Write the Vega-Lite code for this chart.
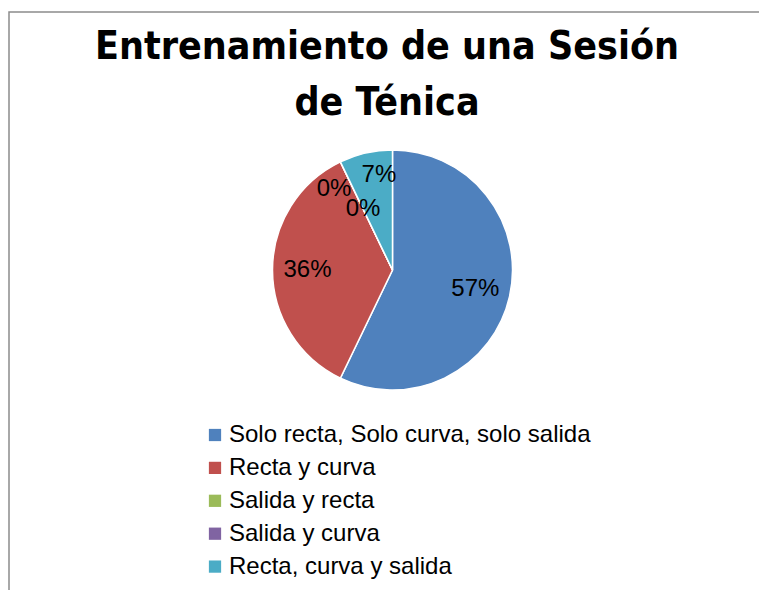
{
  "$schema": "https://vega.github.io/schema/vega-lite/v6.json",
  "width": 750,
  "height": 578,
  "autosize": {"type": "none"},
  "padding": {"left": 9, "top": 12, "right": 0, "bottom": 0},
  "background": "white",
  "view": {"stroke": "#8c8c8c", "strokeWidth": 1.5, "strokeDash": [750, 1328, 578], "fill": "white"},
  "title": {
    "text": ["Entrenamiento de una Sesión", "de Ténica"],
    "font": "DejaVu Sans Condensed",
    "fontWeight": "bold",
    "fontSize": 39,
    "lineHeight": 56,
    "color": "black",
    "anchor": "middle",
    "frame": "group",
    "baseline": "top",
    "offset": 0,
    "dy": 111,
    "dx": 3
  },
  "data": {
    "values": [
      {"idx": 1, "cat": "Solo recta, Solo curva, solo salida", "value": 8, "label": "57%"},
      {"idx": 2, "cat": "Recta y curva", "value": 5, "label": "36%"},
      {"idx": 3, "cat": "Salida y recta", "value": 0, "label": "0%"},
      {"idx": 4, "cat": "Salida y curva", "value": 0, "label": "0%"},
      {"idx": 5, "cat": "Recta, curva y salida", "value": 1, "label": "7%"}
    ]
  },
  "encoding": {
    "theta": {"field": "value", "type": "quantitative", "stack": true},
    "order": {"field": "idx", "type": "quantitative"}
  },
  "layer": [
    {
      "mark": {"type": "arc", "outerRadius": 120, "stroke": "white", "strokeWidth": 1.5, "x": 383.5, "y": 258},
      "encoding": {
        "color": {
          "field": "cat",
          "type": "nominal",
          "sort": null,
          "scale": {
            "domain": ["Solo recta, Solo curva, solo salida", "Recta y curva", "Salida y recta", "Salida y curva", "Recta, curva y salida"],
            "range": ["#4F81BD", "#C0504D", "#9BBB59", "#8064A2", "#4BACC6"]
          },
          "legend": {
            "title": null,
            "orient": "none",
            "legendX": 194,
            "legendY": 411,
            "symbolType": "square",
            "symbolSize": 150,
            "symbolStrokeWidth": 0,
            "symbolOffset": 0,
            "padding": 0,
            "labelFont": "Liberation Sans",
            "labelFontSize": 24,
            "labelColor": "black",
            "labelOffset": 2,
            "labelLimit": 600,
            "rowPadding": 8.9
          }
        }
      }
    },
    {
      "mark": {"type": "text", "radius": 85, "font": "Liberation Sans", "fontSize": 24, "color": "black", "x": 383.5, "y": 258},
      "encoding": {
        "text": {"condition": {"test": "datum.idx <= 2", "field": "label"}, "value": ""}
      }
    },
    {
      "mark": {"type": "text", "radius": 97, "dx": 8, "font": "Liberation Sans", "fontSize": 24, "color": "black", "x": 383.5, "y": 258},
      "encoding": {
        "text": {"condition": {"test": "datum.idx == 5", "field": "label"}, "value": ""}
      }
    },
    {
      "mark": {"type": "text", "radius": 100, "dx": -15, "dy": 9, "font": "Liberation Sans", "fontSize": 24, "color": "black", "x": 383.5, "y": 258},
      "encoding": {
        "text": {"condition": {"test": "datum.idx == 3", "field": "label"}, "value": ""}
      }
    },
    {
      "mark": {"type": "text", "radius": 68, "font": "Liberation Sans", "fontSize": 24, "color": "black", "x": 383.5, "y": 258},
      "encoding": {
        "text": {"condition": {"test": "datum.idx == 4", "field": "label"}, "value": ""}
      }
    }
  ]
}
